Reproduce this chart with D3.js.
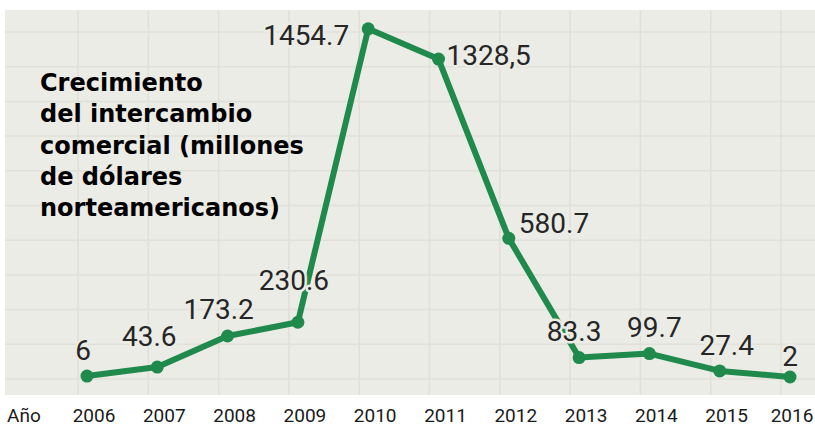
<!DOCTYPE html>
<html>
<head>
<meta charset="utf-8">
<script src="https://cdn.jsdelivr.net/npm/d3@7"></script>
<style>
  html, body { margin: 0; padding: 0; background: #ffffff; }
  svg { display: block; }
</style>
</head>
<body>
<svg id="chart" width="815" height="426"></svg>
<script>
const years = [2006, 2007, 2008, 2009, 2010, 2011, 2012, 2013, 2014, 2015, 2016];
const values = [6, 43.6, 173.2, 230.6, 1454.7, 1328.5, 580.7, 83.3, 99.7, 27.4, 2];
const valueLabels = ["6", "43.6", "173.2", "230.6", "1454.7", "1328,5", "580.7", "83.3", "99.7", "27.4", "2"];
const titleLines = ["Crecimiento", "del intercambio", "comercial (millones", "de dólares", "norteamericanos)"];
const axisTitle = "Año";

// label placement: [dx, dy] relative to the point, and anchor
const labelPos = [
  [-4, -16, "middle"], [-8, -21, "middle"], [-9, -17, "middle"], [-4, -32, "middle"],
  [-62, 16, "middle"], [8, 6, "start"], [10, -5, "start"], [-5, -17, "middle"],
  [5, -17, "middle"], [7, -16, "middle"], [0, -11, "middle"]
];

const svg = d3.select("#chart");
const bg = "#ecece6";

const x = d3.scalePoint().domain(years).range([87, 790]);
const y = d3.scaleLinear().domain([0, 1500]).range([377.5, 18]);

// panel
svg.append("rect").attr("x", 5).attr("y", 10).attr("width", 810).attr("height", 385).attr("fill", bg);

// grid
const g = svg.append("g");
years.forEach(yr => {
  g.append("line").attr("x1", x(yr) - 9).attr("x2", x(yr) - 9).attr("y1", 10).attr("y2", 395)
    .attr("stroke", "#e0e0d9").attr("stroke-width", 1.5);
});
for (let gy = 32; gy < 395; gy += 34.7) {
  g.append("line").attr("x1", 5).attr("x2", 815).attr("y1", gy).attr("y2", gy)
    .attr("stroke", "#e0e0d9").attr("stroke-width", 1.5);
}

const data = years.map((yr, i) => ({ yr, v: values[i], lab: valueLabels[i], pos: labelPos[i] }));

// line
const line = d3.line().x(d => x(d.yr)).y(d => y(d.v));
svg.append("path").datum(data).attr("d", line).attr("fill", "none")
  .attr("stroke", "#1f8a4c").attr("stroke-width", 6).attr("stroke-linejoin", "round");
svg.selectAll("circle.pt").data(data).enter().append("circle")
  .attr("cx", d => x(d.yr)).attr("cy", d => y(d.v)).attr("r", 6.5).attr("fill", "#1f8a4c");

// value labels with halo
svg.selectAll("text.val").data(data).enter().append("text")
  .attr("x", d => x(d.yr) + d.pos[0]).attr("y", d => y(d.v) + d.pos[1])
  .attr("text-anchor", d => d.pos[2])
  .attr("font-family", "Roboto, sans-serif").attr("font-size", 28)
  .attr("fill", "#262626").attr("stroke", bg).attr("stroke-width", 5)
  .attr("paint-order", "stroke").attr("stroke-linejoin", "round")
  .text(d => d.lab);

// title
const t = svg.append("text").attr("font-family", "'DejaVu Sans', sans-serif").attr("font-weight", 700)
  .attr("font-size", 24).attr("fill", "#000");
titleLines.forEach((s, i) => {
  t.append("tspan").attr("x", 40).attr("y", 91 + i * 31.3).text(s);
});

// x axis labels
svg.append("text").attr("x", 7).attr("y", 421.5).attr("font-family", "Roboto, sans-serif")
  .attr("font-size", 19).attr("fill", "#1a1a1a").text(axisTitle);
svg.selectAll("text.yr").data(years).enter().append("text")
  .attr("x", d => Math.min(x(d) + 7, 792)).attr("y", 421.5).attr("text-anchor", "middle")
  .attr("font-family", "Roboto, sans-serif").attr("font-size", 19).attr("fill", "#1a1a1a")
  .text(d => d);
</script>
</body>
</html>
